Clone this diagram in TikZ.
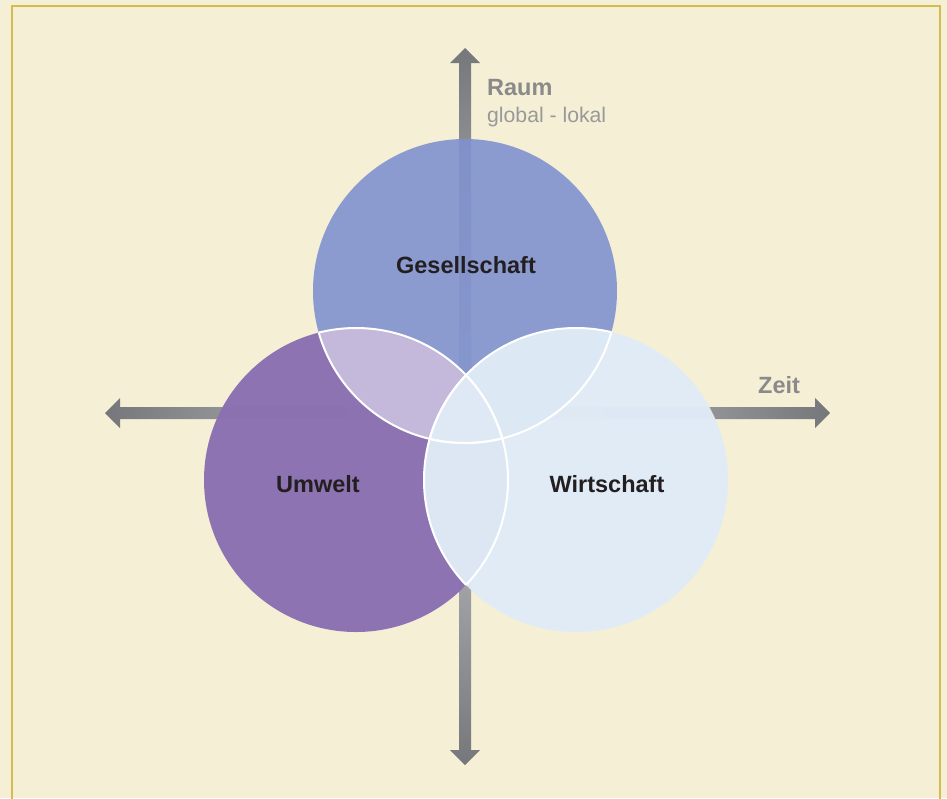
\documentclass[tikz,border=0pt]{standalone}
\usepackage{fontspec}
\setmainfont{Liberation Sans}
\usetikzlibrary{positioning}

\definecolor{paper}{HTML}{F5EFD6}
\definecolor{framegold}{HTML}{D2BD4E}
\definecolor{gesblue}{HTML}{8092CF}
\definecolor{umwpurple}{HTML}{8B70B1}
\definecolor{lensviolet}{HTML}{C4B9DA}
\definecolor{wirtblue}{HTML}{E0EBF7}
\definecolor{axisdark}{HTML}{76777B}
\definecolor{axislight}{HTML}{CACBCD}
\definecolor{axisgray}{HTML}{8A8A8A}
\definecolor{subgray}{HTML}{999999}
\definecolor{textdark}{HTML}{231F20}

\tikzset{
  sphere/.style={font=\fontsize{23.5}{28}\selectfont\bfseries, text=textdark, inner sep=0pt},
  axislbl/.style={font=\fontsize{23.5}{28}\selectfont\bfseries, text=axisgray, inner sep=0pt, anchor=base west},
  sublbl/.style={font=\fontsize{21.2}{25}\selectfont, text=subgray, inner sep=0pt, anchor=base west},
  rim/.style={draw=white, line width=2pt}
}

\begin{document}
\begin{tikzpicture}[x=1pt,y=-1pt]
  \useasboundingbox (0,0) rectangle (947,798);
  \fill[paper] (0,0) rectangle (947,798);
  \draw[framegold, line width=2pt] (12,820) -- (12,6) -- (940,6) -- (940,820);

  % axes
  \coordinate (O) at (465,413);
  \coordinate (raumtop) at (465,48);
  \coordinate (raumbot) at (465,765);
  \coordinate (zeitleft) at (105,413);
  \coordinate (zeitright) at (830,413);
  \shade[top color=axisdark, bottom color=axislight]
    (459,413) -- (459,63) -- (450,63) -- (raumtop) -- (480,63) -- (471,63) -- (471,413) -- cycle;
  \shade[top color=axislight, bottom color=axisdark]
    (459,413) -- (459,750) -- (450,750) -- (raumbot) -- (480,750) -- (471,750) -- (471,413) -- cycle;
  \shade[left color=axisdark, right color=axislight]
    (465,407) -- (120,407) -- (120,398) -- (zeitleft) -- (120,428) -- (120,419) -- (465,419) -- cycle;
  \shade[left color=axislight, right color=axisdark]
    (465,407) -- (815,407) -- (815,398) -- (zeitright) -- (815,428) -- (815,419) -- (465,419) -- cycle;

  % spheres
  \coordinate (g) at (465,291);
  \coordinate (u) at (356,480);
  \coordinate (w) at (576,480);
  \fill[gesblue, fill opacity=0.9] (g) circle[radius=152pt];
  \fill[umwpurple, fill opacity=0.97] (u) circle[radius=152pt];
  \begin{scope}
    \clip (g) circle[radius=152pt];
    \fill[lensviolet] (u) circle[radius=152pt];
  \end{scope}
  \fill[wirtblue, fill opacity=0.97] (w) circle[radius=152pt];

  % white rims inside the overlaps
  \begin{scope}
    \clip (g) circle[radius=152pt];
    \draw[rim] (u) circle[radius=152pt] (w) circle[radius=152pt];
  \end{scope}
  \begin{scope}
    \clip (u) circle[radius=152pt];
    \draw[rim] (g) circle[radius=152pt] (w) circle[radius=152pt];
  \end{scope}
  \begin{scope}
    \clip (w) circle[radius=152pt];
    \draw[rim] (g) circle[radius=152pt] (u) circle[radius=152pt];
  \end{scope}

  \node[sphere, anchor=base] (gesellschaft) at (466,273) {Gesellschaft};
  \node[sphere, anchor=base] (umwelt) at (318,492) {Umwelt};
  \node[sphere, anchor=base] (wirtschaft) at (607,492) {Wirtschaft};

  \node[axislbl] (raum) at (487,95) {Raum};
  \node[sublbl] (raumsub) at (487,122) {global - lokal};
  \node[axislbl] (zeit) at (758,393) {Zeit};
\end{tikzpicture}
\end{document}
